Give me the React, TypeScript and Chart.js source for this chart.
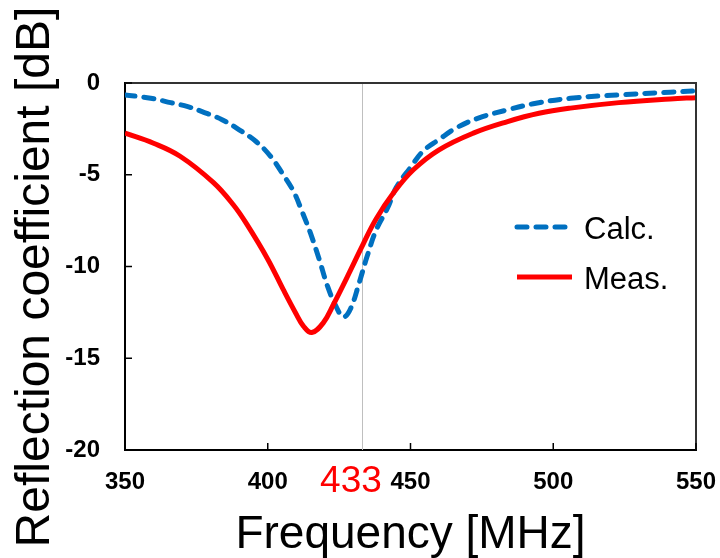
import React, { useEffect, useRef } from "react";
import { Chart, registerables } from "chart.js";

Chart.register(...registerables);

const freqCalc = [350, 359, 366, 372, 377, 384, 390, 396, 401, 405, 409, 412, 415, 418, 421, 424, 426.5, 429, 432, 434.7, 438, 442, 445, 450, 454.5, 460, 466, 474, 484, 493, 506, 523, 541, 550];
const calcDb = [-0.65, -0.83, -1.07, -1.29, -1.56, -2.0, -2.55, -3.2, -4.0, -4.9, -5.9, -7.0, -8.2, -9.6, -11.1, -12.2, -12.75, -12.3, -10.9, -9.5, -8.0, -6.8, -5.7, -4.6, -3.7, -3.08, -2.45, -1.9, -1.46, -1.13, -0.83, -0.65, -0.5, -0.43];

const freqMeas = [350, 360, 369.3, 381, 388, 392.6, 400, 405.4, 410, 412.5, 415.4, 419.5, 423, 429, 433.5, 438, 444, 451, 460, 472, 484, 495, 506, 523, 541, 550];
const measDb = [-2.73, -3.28, -3.99, -5.43, -6.65, -7.68, -9.6, -11.25, -12.6, -13.25, -13.6, -13.06, -12.07, -10.2, -8.75, -7.4, -6.0, -4.73, -3.64, -2.73, -2.1, -1.65, -1.37, -1.07, -0.87, -0.8];

const seriesNames = ["Calc.", "Meas."];
const markerFreq = 433;
const markerLabel = "433";
const xTitle = "Frequency [MHz]";
const yTitle = "Reflection coefficient [dB]";

const BLUE = "#0070C0";
const RED = "#FF0000";
const FONT = "'Liberation Sans', Arial, sans-serif";

const decorPlugin = {
  id: "decor",
  beforeDatasetsDraw(chart: any) {
    const { ctx, chartArea, scales } = chart;
    const x = scales.x.getPixelForValue(markerFreq);
    ctx.save();
    ctx.strokeStyle = "#BFBFBF";
    ctx.lineWidth = 1;
    ctx.beginPath();
    ctx.moveTo(Math.round(x) + 0.5, chartArea.top);
    ctx.lineTo(Math.round(x) + 0.5, chartArea.bottom);
    ctx.stroke();
    ctx.restore();
  },
  afterDraw(chart: any) {
    const { ctx, chartArea, scales } = chart;
    const { left, right, top, bottom } = chartArea;
    ctx.save();
    // frame (top / right)
    ctx.strokeStyle = "#333333";
    ctx.lineWidth = 2;
    ctx.beginPath();
    ctx.moveTo(left, top);
    ctx.lineTo(right, top);
    ctx.lineTo(right, bottom);
    ctx.stroke();
    // inward tick marks
    ctx.strokeStyle = "#000000";
    ctx.lineWidth = 1.5;
    scales.y.ticks.forEach((t: any) => {
      const y = scales.y.getPixelForValue(t.value);
      ctx.beginPath();
      ctx.moveTo(left, y);
      ctx.lineTo(left + 7, y);
      ctx.stroke();
    });
    scales.x.ticks.forEach((t: any) => {
      const x = scales.x.getPixelForValue(t.value);
      ctx.beginPath();
      ctx.moveTo(x, bottom);
      ctx.lineTo(x, bottom - 7);
      ctx.stroke();
    });
    // 433 label
    const mx = scales.x.getPixelForValue(markerFreq);
    ctx.fillStyle = RED;
    ctx.font = "37px " + FONT;
    ctx.textAlign = "center";
    ctx.textBaseline = "alphabetic";
    ctx.fillText(markerLabel, mx - 11, 492);
    // y axis title
    ctx.save();
    ctx.translate(36, 277);
    ctx.rotate(-Math.PI / 2);
    ctx.fillStyle = "#000000";
    ctx.font = "48px " + FONT;
    ctx.textAlign = "center";
    ctx.textBaseline = "middle";
    ctx.fillText(yTitle, 0, 0);
    ctx.restore();
    // legend
    const items = chart.data.datasets;
    const rows = [227, 277];
    items.forEach((ds: any, i: number) => {
      const y = rows[i];
      ctx.strokeStyle = ds.borderColor;
      ctx.lineWidth = ds.borderWidth;
      ctx.lineCap = ds.borderCapStyle || "butt";
      ctx.setLineDash(ds.borderDash || []);
      ctx.beginPath();
      ctx.moveTo(517, y);
      ctx.lineTo(572, y);
      ctx.stroke();
      ctx.setLineDash([]);
      ctx.fillStyle = "#000000";
      ctx.font = "31px " + FONT;
      ctx.textAlign = "left";
      ctx.textBaseline = "alphabetic";
      ctx.fillText(ds.label, 584, y + 12);
    });
    ctx.restore();
  },
};

export default function App() {
  const ref = useRef<HTMLCanvasElement | null>(null);
  useEffect(() => {
    if (!ref.current) return;
    const chart = new Chart(ref.current, {
      type: "line",
      data: {
        datasets: [
          {
            label: seriesNames[0],
            data: freqCalc.map((f, i) => ({ x: f, y: calcDb[i] })),
            borderColor: BLUE,
            borderWidth: 5,
            borderDash: [10, 9],
            borderCapStyle: "round",
            pointRadius: 0,
            tension: 0.4,
            order: 1,
          },
          {
            label: seriesNames[1],
            data: freqMeas.map((f, i) => ({ x: f, y: measDb[i] })),
            borderColor: RED,
            borderWidth: 5,
            pointRadius: 0,
            tension: 0.4,
            order: 0,
          },
        ],
      },
      options: {
        animation: false,
        responsive: false,
        devicePixelRatio: 1,
        layout: { padding: { left: 0, top: 83, right: 24, bottom: 0 } },
        plugins: { legend: { display: false }, tooltip: { enabled: false } },
        scales: {
          x: {
            type: "linear",
            min: 350,
            max: 550,
            ticks: {
              stepSize: 50,
              padding: 18,
              color: "#000000",
              font: { family: FONT, size: 24, weight: "bold" },
            },
            grid: { display: true, drawOnChartArea: false, drawTicks: false },
            border: { display: true, color: "#000000", width: 2 },
            title: {
              display: true,
              text: xTitle,
              color: "#000000",
              padding: 0,
              font: { family: FONT, size: 46, lineHeight: 1 },
            },
            afterFit: (s: any) => {
              s.height = 108;
              s.paddingLeft = 0;
              s.paddingRight = 0;
            },
          },
          y: {
            min: -20,
            max: 0,
            ticks: {
              stepSize: 5,
              padding: 25,
              color: "#000000",
              font: { family: FONT, size: 24, weight: "bold" },
            },
            grid: { display: true, drawOnChartArea: false, drawTicks: false },
            border: { display: true, color: "#000000", width: 2 },
            title: { display: false, text: yTitle },
            afterFit: (s: any) => {
              s.width = 125;
              s.paddingTop = 0;
              s.paddingBottom = 0;
            },
          },
        },
      },
      plugins: [decorPlugin],
    });
    return () => chart.destroy();
  }, []);
  return (
    <div style={{ position: "fixed", left: 0, top: 0, width: 720, height: 558, background: "#fff" }}>
      <canvas ref={ref} width={720} height={558} style={{ width: 720, height: 558, display: "block" }} />
    </div>
  );
}
